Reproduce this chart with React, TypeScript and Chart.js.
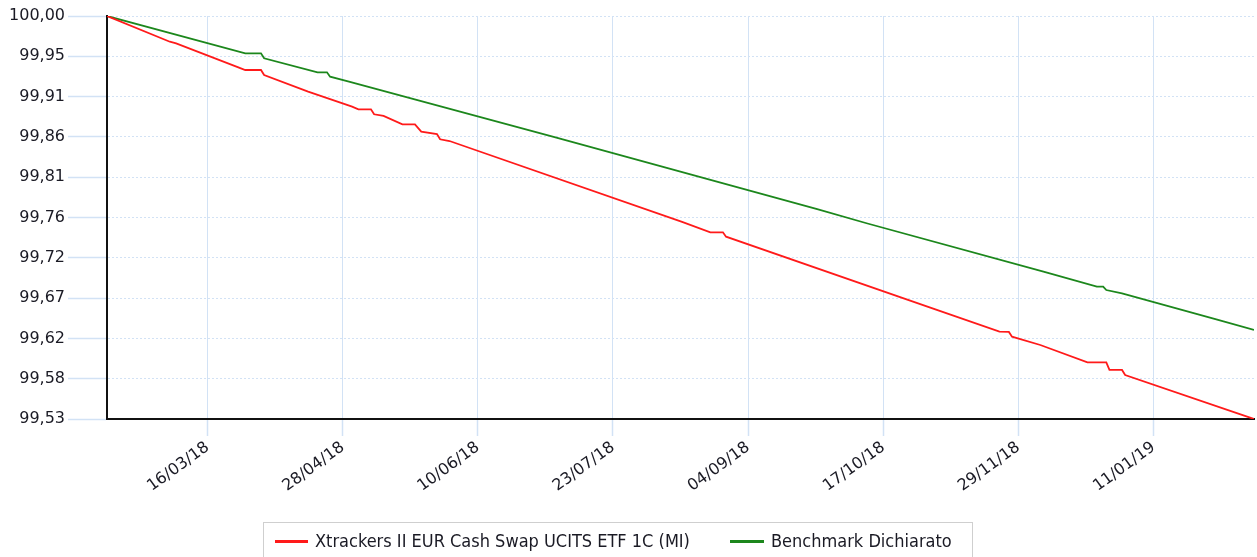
import React, { useEffect, useRef } from "react";
import { Chart, registerables } from "chart.js";

Chart.register(...registerables);

const START_DATE = "2018-02-12";
const END_DATE = "2019-02-12";

const fundLabel = "Xtrackers II EUR Cash Swap UCITS ETF 1C (MI)";
const benchLabel = "Benchmark Dichiarato";

const fundDates = [
  "2018-02-12", "2018-03-04", "2018-03-06", "2018-03-26", "2018-03-28", "2018-04-02",
  "2018-04-03", "2018-04-17", "2018-05-01", "2018-05-03", "2018-05-07", "2018-05-08",
  "2018-05-11", "2018-05-17", "2018-05-21", "2018-05-23", "2018-05-28", "2018-05-29",
  "2018-06-01", "2018-08-14", "2018-08-23", "2018-08-27", "2018-08-28", "2018-11-01",
  "2018-11-23", "2018-11-26", "2018-11-27", "2018-12-06", "2018-12-21", "2018-12-27",
  "2018-12-28", "2019-01-01", "2019-01-02", "2019-02-12",
];
const fundValues = [
  100.0, 99.97, 99.968, 99.9397, 99.937, 99.937,
  99.9312, 99.9117, 99.8942, 99.8912, 99.8912, 99.8854,
  99.8834, 99.8737, 99.8737, 99.8651, 99.8624, 99.8562,
  99.8542, 99.7598, 99.7477, 99.7477, 99.7426, 99.6598,
  99.6318, 99.6315, 99.626, 99.6163, 99.5961, 99.5961,
  99.5872, 99.5872, 99.5813, 99.53,
];

const benchDates = [
  "2018-02-12", "2018-03-28", "2018-04-02", "2018-04-03", "2018-04-20", "2018-04-23",
  "2018-04-24", "2018-04-30", "2018-07-05", "2018-09-26", "2018-10-12", "2018-12-07",
  "2018-12-24", "2018-12-26", "2018-12-27", "2019-01-01", "2019-01-31", "2019-02-12",
];
const benchValues = [
  100.0, 99.9565, 99.9565, 99.9507, 99.9343, 99.9343,
  99.9292, 99.9234, 99.8581, 99.7749, 99.758, 99.7018,
  99.6843, 99.6843, 99.6804, 99.6766, 99.6463, 99.6338,
];

const xTickDates = [
  "2018-03-16", "2018-04-28", "2018-06-10", "2018-07-23",
  "2018-09-04", "2018-10-17", "2018-11-29", "2019-01-11",
];
const xTickLabels = [
  "16/03/18", "28/04/18", "10/06/18", "23/07/18",
  "04/09/18", "17/10/18", "29/11/18", "11/01/19",
];

const yTickValues = [
  99.53, 99.577, 99.624, 99.671, 99.718, 99.765, 99.812, 99.859, 99.906, 99.953, 100.0,
];
const yTickLabels = [
  "99,53", "99,58", "99,62", "99,67", "99,72", "99,76", "99,81", "99,86", "99,91", "99,95", "100,00",
];

const dayOf = (iso: string) =>
  Math.round((Date.parse(iso) - Date.parse(START_DATE)) / 86400000);

const GRID = "#d2e2f5";
const FONT = "'DejaVu Sans', Verdana, sans-serif";
const RED = "#ff1a1a";
const GREEN = "#1c871c";

export default function App() {
  const canvasRef = useRef<HTMLCanvasElement | null>(null);

  useEffect(() => {
    document.body.style.margin = "0";
    const canvas = canvasRef.current;
    if (!canvas) return;
    const chart = new Chart(canvas, {
      type: "line",
      data: {
        datasets: [
          {
            label: fundLabel,
            data: fundDates.map((d, i) => ({ x: dayOf(d), y: fundValues[i] })),
            borderColor: RED,
            borderWidth: 1.8,
            pointRadius: 0,
            tension: 0,
            fill: false,
          },
          {
            label: benchLabel,
            data: benchDates.map((d, i) => ({ x: dayOf(d), y: benchValues[i] })),
            borderColor: GREEN,
            borderWidth: 1.8,
            pointRadius: 0,
            tension: 0,
            fill: false,
          },
        ],
      },
      options: {
        animation: false,
        responsive: false,
        maintainAspectRatio: false,
        layout: { padding: { top: 16, right: 3, bottom: 0, left: 0 } },
        plugins: { legend: { display: false }, tooltip: { enabled: false } },
        scales: {
          x: {
            type: "linear",
            min: 0,
            max: dayOf(END_DATE),
            afterBuildTicks: (s: any) => {
              s.ticks = xTickDates.map((d) => ({ value: dayOf(d) }));
            },
            afterFit: (s: any) => {
              s.height = 138;
            },
            ticks: {
              autoSkip: false,
              minRotation: 36,
              maxRotation: 36,
              padding: 2,
              color: "#1a1a24",
              font: { family: FONT, size: 16 },
              callback: (_v: any, i: number) => xTickLabels[i],
            },
            grid: { color: GRID, tickColor: GRID, tickLength: 17, lineWidth: 1, tickWidth: 1.5 },
            border: { color: "#111", width: 2 },
          },
          y: {
            type: "linear",
            min: 99.53,
            max: 100.0,
            afterBuildTicks: (s: any) => {
              s.ticks = yTickValues.map((v) => ({ value: v }));
            },
            afterFit: (s: any) => {
              s.width = 107;
            },
            ticks: {
              padding: 3,
              color: "#1a1a24",
              font: { family: FONT, size: 16 },
              callback: (_v: any, i: number) => yTickLabels[i],
            },
            grid: { color: GRID, tickColor: GRID, tickLength: 39, lineWidth: 1, tickWidth: 1.5 },
            border: { color: "#111", width: 2, dash: [2, 2] },
          },
        },
      },
    } as any);
    return () => chart.destroy();
  }, []);

  const legendFont = "'DejaVu Sans Condensed', 'DejaVu Sans', sans-serif";
  const textStyle: React.CSSProperties = {
    position: "absolute",
    top: 530,
    fontFamily: legendFont,
    fontSize: 18,
    lineHeight: "22px",
    color: "#1a1a24",
    whiteSpace: "nowrap",
  };

  return (
    <div style={{ position: "relative", width: 1257, height: 557, overflow: "hidden", background: "#fff" }}>
      <canvas ref={canvasRef} width={1257} height={557} style={{ position: "absolute", left: 0, top: 0 }} />
      <div
        style={{
          position: "absolute",
          left: 263,
          top: 522,
          width: 710,
          height: 45,
          border: "1px solid #cfcfcf",
          boxSizing: "border-box",
        }}
      />
      <div style={{ position: "absolute", left: 275, top: 540, width: 33, height: 3, background: RED }} />
      <div style={{ ...textStyle, left: 315 }}>{fundLabel}</div>
      <div style={{ position: "absolute", left: 730, top: 540, width: 34, height: 3, background: GREEN }} />
      <div style={{ ...textStyle, left: 771 }}>{benchLabel}</div>
    </div>
  );
}
